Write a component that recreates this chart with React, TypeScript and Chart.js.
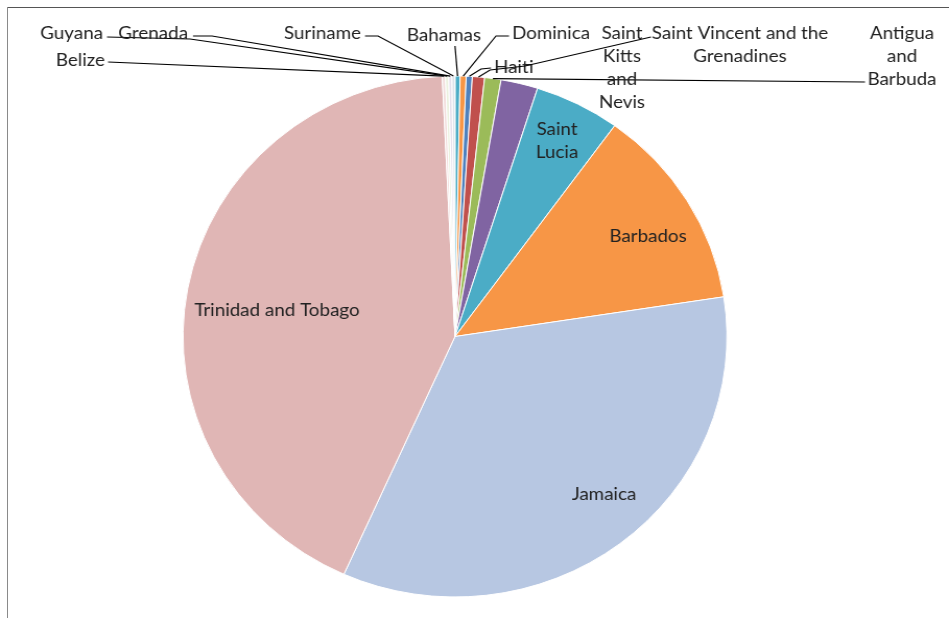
import React, { useEffect, useRef } from "react";
import { Chart, registerables } from "chart.js";

Chart.register(...registerables);

// ---- data (clockwise from 12 o'clock) ----
const countries = [
  "Bahamas",
  "Dominica",
  "Haiti",
  "Saint Vincent and the Grenadines",
  "Antigua and Barbuda",
  "Saint Kitts and Nevis",
  "Saint Lucia",
  "Barbados",
  "Jamaica",
  "Trinidad and Tobago",
  "Belize",
  "Guyana",
  "Grenada",
  "Suriname",
];
const shares = [0.3, 0.36, 0.36, 0.72, 0.97, 2.2, 5.08, 12.58, 34.14, 42.56, 0.19, 0.19, 0.19, 0.18];
const sliceColors = [
  "#4BACC6",
  "#F79646",
  "#4F81BD",
  "#C0504D",
  "#9BBB59",
  "#8064A2",
  "#4BACC6",
  "#F79646",
  "#B7C7E2",
  "#E0B6B5",
  "#F2DCDB",
  "#EBF1DE",
  "#E5E0EC",
  "#DDE3EA",
];

// ---- layout (screen coordinates, before horizontal stretch) ----
const SX = 1.044;
const W = 949;
const H = 618;
const CW = Math.round(W / SX);

type Lbl = {
  x: number;
  y: number;
  align: CanvasTextAlign;
  wrap: number[];
  leader?: number[][];
};

const labelLayout: Record<string, Lbl> = {
  Belize: { x: 105, y: 60, align: "right", wrap: [1], leader: [[108, 62]] },
  Guyana: { x: 103, y: 33, align: "right", wrap: [1], leader: [[107, 37], [190, 39]] },
  Grenada: { x: 188, y: 33, align: "right", wrap: [1], leader: [[193, 36], [212, 36]] },
  Suriname: { x: 361, y: 33, align: "right", wrap: [1], leader: [[365, 36], [378, 36]] },
  Bahamas: { x: 444, y: 35, align: "center", wrap: [1], leader: [[455, 46]] },
  Dominica: { x: 512, y: 33, align: "left", wrap: [1], leader: [[509, 36], [496, 36]] },
  Haiti: { x: 494, y: 67, align: "left", wrap: [1], leader: [[491, 68], [481, 69]] },
  "Saint Vincent and the Grenadines": {
    x: 740,
    y: 33,
    align: "center",
    wrap: [4, 1],
    leader: [[651, 37], [525, 66], [490, 70]],
  },
  "Antigua and Barbuda": { x: 902, y: 33, align: "center", wrap: [1, 1, 1], leader: [[865, 82]] },
  "Saint Kitts and Nevis": { x: 622, y: 33, align: "center", wrap: [1, 1, 1, 1] },
  "Saint Lucia": { x: 557, y: 129, align: "center", wrap: [1, 1] },
  Barbados: { x: 648, y: 236, align: "center", wrap: [1] },
  Jamaica: { x: 604, y: 494, align: "center", wrap: [1] },
  "Trinidad and Tobago": { x: 277, y: 310, align: "center", wrap: [3] },
};

const LINE_H = 23;
const FONT = "18px Lato";
const TEXT_COLOR = "#222";

function wrapLines(name: string, wrap: number[]): string[] {
  const words = name.split(" ");
  const out: string[] = [];
  let k = 0;
  wrap.forEach((n, idx) => {
    const end = idx === wrap.length - 1 ? words.length : k + n;
    out.push(words.slice(k, end).join(" "));
    k = end;
  });
  return out;
}

const labelPlugin = {
  id: "pieLabels",
  afterDatasetsDraw(chart: any) {
    const ctx: CanvasRenderingContext2D = chart.ctx;
    const meta = chart.getDatasetMeta(0);
    ctx.save();
    ctx.font = FONT;
    ctx.fillStyle = TEXT_COLOR;
    ctx.textBaseline = "middle";
    ctx.strokeStyle = "#000";
    ctx.lineWidth = 1.2;
    meta.data.forEach((arc: any, i: number) => {
      const name = countries[i];
      const L = labelLayout[name];
      if (!L) return;
      const p = arc.getProps(["x", "y", "startAngle", "endAngle", "outerRadius"], true);
      const mid = (p.startAngle + p.endAngle) / 2;
      const ex = p.x + Math.cos(mid) * p.outerRadius;
      const ey = p.y + Math.sin(mid) * p.outerRadius;
      if (L.leader) {
        ctx.beginPath();
        L.leader.forEach((pt, j) => {
          const px = pt[0] / SX;
          if (j === 0) ctx.moveTo(px, pt[1]);
          else ctx.lineTo(px, pt[1]);
        });
        ctx.lineTo(ex, ey);
        ctx.stroke();
      }
      ctx.textAlign = L.align;
      const lines = wrapLines(name, L.wrap);
      lines.forEach((t, j) => {
        ctx.fillText(t, L.x / SX, L.y + j * LINE_H);
      });
    });
    ctx.restore();
  },
};

export default function App() {
  const ref = useRef<HTMLCanvasElement | null>(null);
  useEffect(() => {
    if (!ref.current) return;
    const cx = 455 / SX;
    const cy = 336.5;
    const R = 260.5;
    const chart = new Chart(ref.current, {
      type: "pie",
      data: {
        labels: countries,
        datasets: [
          {
            data: shares,
            backgroundColor: sliceColors,
            borderColor: "#ffffff",
            borderWidth: 1,
            radius: R,
          } as any,
        ],
      },
      options: {
        responsive: false,
        animation: false,
        radius: R,
        layout: {
          padding: {
            left: cx - R,
            right: CW - cx - R,
            top: cy - R,
            bottom: H - cy - R,
          },
        },
        plugins: {
          legend: { display: false },
          tooltip: { enabled: false },
        },
      } as any,
      plugins: [labelPlugin],
    });
    return () => chart.destroy();
  }, []);

  return (
    <div style={{ position: "fixed", left: 0, top: 0, width: W, height: H, background: "#fff", overflow: "hidden" }}>
      <div
        style={{
          position: "absolute",
          left: 0,
          top: 0,
          width: CW,
          height: H,
          transform: `scaleX(${SX})`,
          transformOrigin: "0 0",
        }}
      >
        <canvas ref={ref} width={CW} height={H} style={{ width: CW, height: H, display: "block" }} />
      </div>
      <div style={{ position: "absolute", left: 7, top: 7, width: W - 7, height: 1, background: "#555" }} />
      <div style={{ position: "absolute", left: 7, top: 7, width: 1, height: H - 7, background: "#8a8a8a" }} />
    </div>
  );
}
